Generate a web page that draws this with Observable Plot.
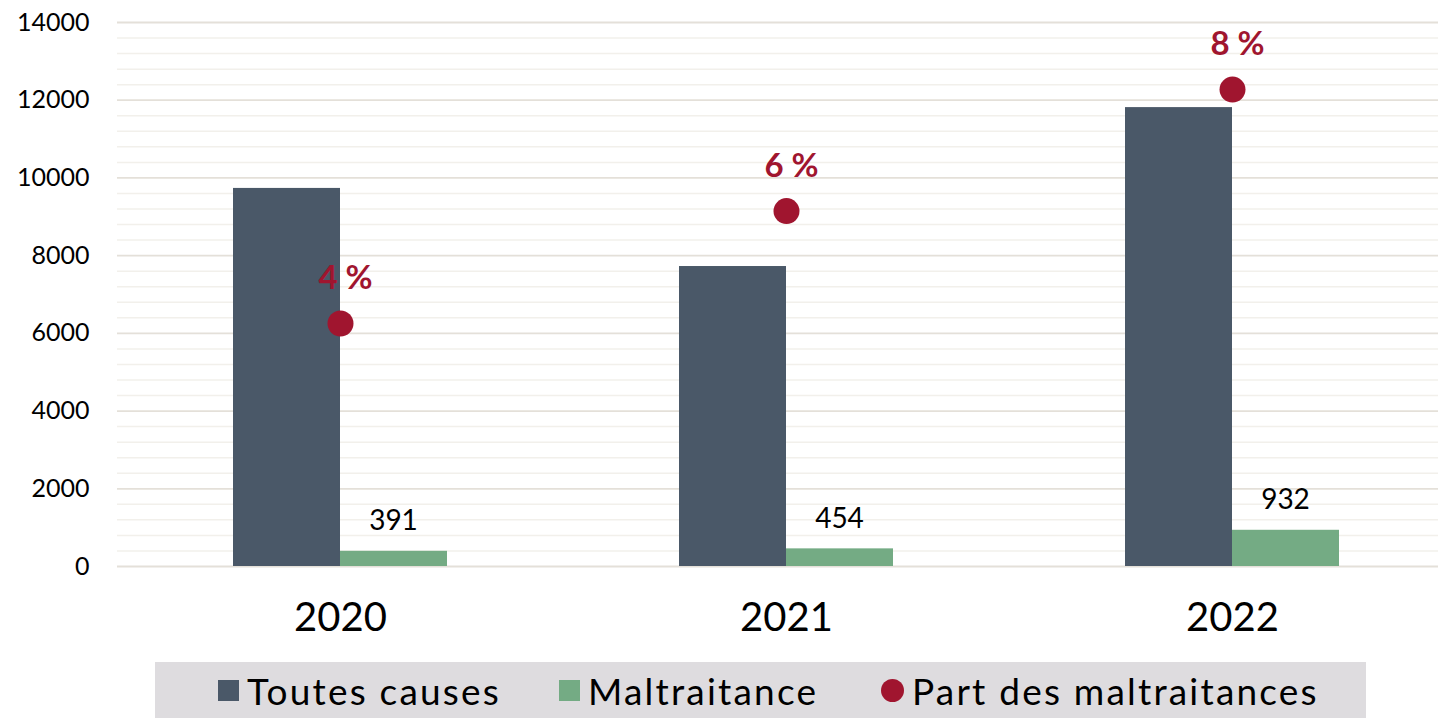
<!DOCTYPE html>
<html><head><meta charset="utf-8">
<script src="https://cdn.jsdelivr.net/npm/d3@7"></script>
<script src="https://cdn.jsdelivr.net/npm/@observablehq/plot@0.6"></script>
<style>
body{margin:0;background:#fff;font-family:Lato,"DejaVu Sans",sans-serif;overflow:hidden;}
#chart{position:absolute;left:0;top:0;}
#legend{position:absolute;left:155px;top:662px;width:1211px;height:56px;background:#dedcdf;font-size:37px;color:#000;letter-spacing:2.2px;}
.item{position:absolute;top:0;height:56px;display:flex;align-items:center;white-space:nowrap;}
.sw{display:inline-block;width:21px;height:21px;margin-right:8px;}
.dot{display:inline-block;width:23px;height:23px;border-radius:50%;margin-right:8px;}
</style>
</head><body>
<div id="chart"></div>
<div id="legend"></div>
<script>
const years = ["2020", "2021", "2022"];
const totalValues = [9730, 7720, 11810];          // Toutes causes
const abuseValues = [391, 454, 932];              // Maltraitance
const sharePct = [4.02, 5.88, 7.89];              // Part des maltraitances (%)
const shareLabels = ["4 %", "6 %", "8 %"];
const yTicks = [0, 2000, 4000, 6000, 8000, 10000, 12000, 14000];
const seriesNames = ["Toutes causes", "Maltraitance", "Part des maltraitances"];
const colors = ["#4a5868", "#74ab84", "#a0152f"];
const yMax = 14000;
const pctMax = 9; // hidden secondary axis maximum (%)

const rows = years.map((y, i) => ({
  year: y, total: totalValues[i], abuse: abuseValues[i],
  share: sharePct[i], shareY: sharePct[i] / pctMax * yMax, shareLabel: shareLabels[i]
}));
const minorTicks = d3.range(0, yMax + 1, 400).filter(v => v % 2000 !== 0);

const chart = Plot.plot({
  width: 1438,
  height: 662,
  marginLeft: 117,
  marginRight: 0,
  marginTop: 22,
  marginBottom: 96,
  style: {fontFamily: "Lato, 'DejaVu Sans', sans-serif", color: "#000", background: "#fff"},
  x: {domain: years, range: [117, 1455], padding: 0},
  y: {domain: [0, yMax]},
  marks: [
    Plot.ruleY(minorTicks, {stroke: "#f2f0eb", strokeWidth: 1.5}),
    Plot.ruleY(yTicks, {stroke: "#e4e0d9", strokeWidth: 1.8}),
    Plot.axisY({ticks: yTicks, tickSize: 0, tickPadding: 28, fontSize: 25, label: null, tickFormat: d => String(d), style: {letterSpacing: "0.5px"}}),
    Plot.axisX({tickSize: 0, tickPadding: 36, fontSize: 40, label: null}),
    Plot.barY(rows, {x: "year", y: "total", fill: colors[0], insetLeft: 116, insetRight: 223}),
    Plot.barY(rows, {x: "year", y: "abuse", fill: colors[1], insetLeft: 223, insetRight: 116}),
    Plot.text(rows, {x: "year", y: "abuse", text: d => String(d.abuse), dx: 53, dy: -30, fontSize: 28, fill: "#000", textAnchor: "middle", lineAnchor: "middle"}),
    Plot.dot(rows, {x: "year", y: "shareY", r: 13, fill: colors[2], stroke: "none"}),
    Plot.text(rows, {x: "year", y: "shareY", text: "shareLabel", dx: 5, dy: -45, fontSize: 33, fontWeight: "bold", fill: colors[2], textAnchor: "middle", lineAnchor: "middle", style: {letterSpacing: "1.5px"}})
  ]
});
document.getElementById("chart").appendChild(chart);

const legend = document.getElementById("legend");
const lefts = [63, 404, 726];
seriesNames.forEach((name, i) => {
  const it = document.createElement("div");
  it.className = "item";
  it.style.left = lefts[i] + "px";
  const m = document.createElement("span");
  m.className = i === 2 ? "dot" : "sw";
  m.style.background = colors[i];
  const t = document.createElement("span");
  t.textContent = name;
  it.appendChild(m); it.appendChild(t);
  legend.appendChild(it);
});
</script>
</body></html>
